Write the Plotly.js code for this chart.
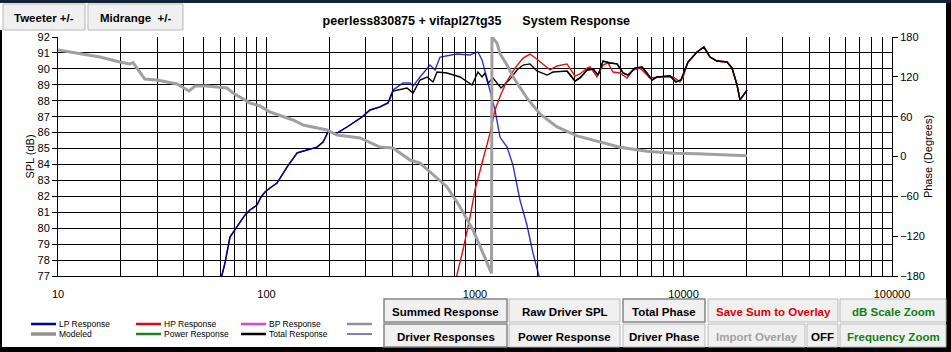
<!DOCTYPE html>
<html>
<head>
<meta charset="utf-8">
<script src="https://cdn.plot.ly/plotly-3.0.1.min.js"></script>
<style>html,body{margin:0;padding:0;background:#fff;}#chart{width:951px;height:352px;}</style>
</head>
<body>
<div id="chart"></div>
<script>
// ---- data ----
var lpFreq = [61, 63.2, 66.8, 70.6, 78.9, 83.3, 90, 94.1, 98.4, 103.9, 112.3, 125.4, 140, 144.8, 174.8, 186.7, 197.2, 217.9, 243.3, 287.2, 313.5, 350.3, 382.5, 404.3, 451.5, 487.7, 504.5, 544.9, 608.5, 643.3, 679.7, 819.7, 946.5, 1000, 1033, 1081, 1154, 1247, 1318, 1424, 1521, 1643, 1775, 1897, 2028];
var lpSpl = [77.0, 77.81, 79.44, 79.88, 80.83, 81.14, 81.45, 81.96, 82.27, 82.52, 82.83, 83.84, 84.72, 84.78, 85.09, 85.41, 86.04, 85.97, 86.35, 86.98, 87.42, 87.61, 87.86, 88.67, 89.11, 89.11, 88.92, 89.49, 90.24, 89.93, 90.74, 90.93, 90.87, 91.0, 91.06, 90.56, 89.11, 87.42, 85.72, 85.09, 83.96, 81.77, 80.20, 78.44, 77.0];

var hpFreq = [816.6, 875.6, 946.5, 1000, 1081, 1181, 1247, 1333, 1424, 1555, 1700, 1836, 2005, 2215, 2291, 2474, 2762, 3017, 3189, 3446, 3565, 3846, 4115, 4345, 4592, 4961, 5358, 5728, 6185, 6902, 7709, 8904, 9617, 9949, 10510, 11610, 12540, 13400, 14480, 16170, 17090, 18060, 18660, 19280, 20160];
var hpSpl = [77.0, 78.63, 80.70, 82.40, 84.09, 85.97, 87.42, 88.42, 89.24, 90.05, 90.68, 90.93, 90.56, 90.12, 89.93, 90.18, 90.31, 89.55, 89.68, 90.05, 90.12, 89.49, 90.24, 90.37, 89.80, 89.74, 89.43, 89.93, 90.05, 89.43, 89.49, 89.49, 89.18, 89.49, 90.43, 91.06, 91.37, 90.74, 90.49, 90.43, 90.05, 88.99, 88.05, 88.30, 88.67];

var totalFreq = [61, 63.2, 66.8, 70.6, 78.9, 83.3, 90, 94.1, 98.4, 103.9, 112.3, 125.4, 140, 144.8, 174.8, 186.7, 197.2, 217.9, 243.3, 287.2, 313.5, 350.3, 382.5, 404.3, 422.6, 472, 504.5, 545, 589, 629, 657.6, 734, 848, 968, 1033, 1081, 1117, 1154, 1220, 1333, 1472, 1590, 1700, 1836, 1983, 2215, 2368, 2762, 3017, 3189, 3446, 3685, 3894, 4115, 4440, 4800, 5131, 5423, 5852, 6325, 6683, 7063, 7463, 8610, 9204, 9727, 10510, 11610, 12540, 13400, 14480, 16170, 17090, 18060, 18660, 19280, 20160];
var totalSpl = [77.0, 77.81, 79.44, 79.88, 80.83, 81.14, 81.45, 81.96, 82.27, 82.52, 82.83, 83.84, 84.72, 84.78, 85.09, 85.41, 86.04, 85.97, 86.35, 86.98, 87.42, 87.61, 87.86, 88.6, 88.67, 88.80, 88.48, 89.30, 89.49, 89.18, 89.80, 89.74, 89.49, 88.99, 89.80, 89.49, 89.74, 89.11, 89.43, 88.80, 89.36, 89.93, 90.24, 90.31, 89.87, 89.61, 89.80, 89.87, 89.24, 89.43, 89.93, 89.99, 89.61, 90.49, 90.37, 90.31, 89.74, 89.61, 90.05, 90.12, 89.74, 89.30, 89.49, 89.55, 89.18, 89.30, 90.43, 91.06, 91.37, 90.74, 90.49, 90.43, 90.05, 88.99, 88.05, 88.30, 88.67];

var phaseFreq = [10, 11.8, 15.9, 19.8, 22.1, 22.9, 24.2, 26.1, 29.8, 37.2, 42.5, 45.4, 51.8, 57.9, 64.7, 69.1, 83.3, 93.1, 103.9, 134, 150, 195, 218, 281, 350, 404, 488, 545, 629, 734, 848, 978, 1092, 1200, 1206, 1275, 1318, 1424, 1522, 1776, 2050, 2474, 3084, 3977, 4961, 6683, 8904, 11605, 16170, 20160];
var phaseDeg = [160.4, 156.4, 149.9, 142.3, 139.3, 141.3, 130.3, 116.7, 115.2, 109.2, 98.7, 106.2, 106.2, 104.7, 103.2, 95.6, 80.6, 76.1, 67.0, 55.0, 47.4, 39.9, 32.4, 27.9, 14.3, 12.8, -5.3, -9.8, -27.9, -45.9, -76.1, -110.7, -145.4, -176, 180, 171, 155, 138, 120, 88, 64, 44.5, 31, 22, 14, 8, 5, 4, 2.3, 1];

var decadeLabels = ['10', '100', '1000', '10000', '100000'];
var splTicks = [77, 78, 79, 80, 81, 82, 83, 84, 85, 86, 87, 88, 89, 90, 91, 92];
var phaseTicks = [-180, -120, -60, 0, 60, 120, 180];

var legendRow1 = ['LP Response', 'HP Response', 'BP Response', ''];
var legendRow2 = ['Modeled', 'Power Response', 'Total Response', ''];
var legendColors1 = ['#0000b0', '#d01010', '#e040e0', '#909090'];
var legendColors2 = ['#909090', '#208020', '#000000', '#000090'];

var chartTitle = 'peerless830875 + vifapl27tg35\u00a0\u00a0\u00a0\u00a0\u00a0\u00a0System Response';

// ---- axis grid values (every 1..9 x decade) ----
var gridVals = [], gridText = [];
for (var d = 0; d < 4; d++) {
  for (var m = 1; m <= 9; m++) {
    gridVals.push(m * Math.pow(10, d + 1));
    gridText.push(m === 1 ? decadeLabels[d] : '');
  }
}
gridVals.push(100000); gridText.push(decadeLabels[4]);

// ---- geometry helpers (pixel -> paper) ----
var W = 951, H = 352, L = 58, R = 892, T = 37, B = 276;
function px(x) { return (x - L) / (R - L); }
function py(y) { return (B - y) / (B - T); }

var FONT = 'Arial, "Liberation Sans", sans-serif';

var traces = [
  {x: totalFreq, y: totalSpl, type: 'scatter', mode: 'lines', line: {color: '#000000', width: 1.4}, showlegend: false, name: 'Total Response'},
  {x: lpFreq, y: lpSpl, type: 'scatter', mode: 'lines', line: {color: '#0000b4', width: 1.4}, opacity: 0.8, showlegend: false, name: 'LP Response'},
  {x: hpFreq, y: hpSpl, type: 'scatter', mode: 'lines', line: {color: '#e01010', width: 1.4}, showlegend: false, name: 'HP Response'},
  {x: totalFreq.slice(47), y: totalSpl.slice(47), type: 'scatter', mode: 'lines', line: {color: '#000000', width: 1.4}, showlegend: false, name: 'Total Response'},
  {x: phaseFreq, y: phaseDeg, type: 'scatter', mode: 'lines', yaxis: 'y2', line: {color: '#a0a0a0', width: 3}, showlegend: false, name: 'Modeled'}
];

var shapes = [], annotations = [];

function button(x0, y0, x1, y1, text, color, sunken) {
  shapes.push({type: 'rect', xref: 'paper', yref: 'paper', x0: px(x0), x1: px(x1), y0: py(y1), y1: py(y0),
    fillcolor: '#f0f0f0', line: {color: sunken ? '#858585' : '#b8b8b8', width: sunken ? 1.5 : 1}, layer: 'above'});
  annotations.push({xref: 'paper', yref: 'paper', x: px((x0 + x1) / 2), y: py((y0 + y1) / 2 + 1), xanchor: 'center', yanchor: 'middle',
    text: '<b>' + text + '</b>', showarrow: false, font: {family: FONT, size: 11.5, color: color}});
}

// window frame
shapes.push({type: 'rect', xref: 'paper', yref: 'paper', x0: px(0), x1: px(951), y0: py(3), y1: py(0), fillcolor: '#14233a', line: {width: 0}, layer: 'above'});
shapes.push({type: 'rect', xref: 'paper', yref: 'paper', x0: px(0), x1: px(951), y0: py(352), y1: py(347), fillcolor: '#000000', line: {width: 0}, layer: 'above'});
shapes.push({type: 'rect', xref: 'paper', yref: 'paper', x0: px(0), x1: px(2), y0: py(352), y1: py(30), fillcolor: '#000000', line: {width: 0}, layer: 'above'});
shapes.push({type: 'rect', xref: 'paper', yref: 'paper', x0: px(946), x1: px(951), y0: py(352), y1: py(3), fillcolor: '#000000', line: {width: 0}, layer: 'above'});

// top buttons
button(3, 4, 85, 30, 'Tweeter +/-', '#000000', false);
button(88, 4, 183, 30, 'Midrange\u00a0\u00a0+/-', '#000000', false);

// bottom buttons
button(384, 299, 507, 322, 'Summed Response', '#000000', true);
button(509, 299, 620, 322, 'Raw Driver SPL', '#000000', false);
button(623, 299, 705, 322, 'Total Phase', '#000000', true);
button(708, 299, 838, 322, 'Save Sum to Overlay', '#e00000', false);
button(840, 299, 946, 322, 'dB Scale Zoom', '#108010', false);
button(384, 324, 507, 347, 'Driver Responses', '#000000', true);
button(509, 324, 620, 347, 'Power Response', '#000000', false);
button(623, 324, 705, 347, 'Driver Phase', '#000000', false);
button(708, 324, 805, 347, 'Import Overlay', '#a0a0a0', false);
button(807, 324, 838, 347, 'OFF', '#000000', false);
button(840, 324, 946, 347, 'Frequency Zoom', '#108010', false);

// manual legend
var colX = [31, 136, 241, 347];
var rowY = [324, 334];
var rows = [legendRow1, legendRow2];
var cols = [legendColors1, legendColors2];
for (var r = 0; r < 2; r++) {
  for (var c = 0; c < 4; c++) {
    var w = (r === 1 && c === 0) ? 3.5 : (c === 3 ? (r === 0 ? 2.5 : 1) : 2.5);
    shapes.push({type: 'line', xref: 'paper', yref: 'paper', x0: px(colX[c]), x1: px(colX[c] + 25), y0: py(rowY[r]), y1: py(rowY[r]),
      line: {color: cols[r][c], width: w}, layer: 'above'});
    if (rows[r][c]) {
      annotations.push({xref: 'paper', yref: 'paper', x: px(colX[c] + 26), y: py(rowY[r]), xanchor: 'left', yanchor: 'middle',
        text: rows[r][c], showarrow: false, font: {family: FONT, size: 8.5, color: '#000000'}});
    }
  }
}

var layout = {
  width: W, height: H,
  margin: {l: L, r: W - R, t: T, b: H - B, pad: 0},
  paper_bgcolor: '#ffffff', plot_bgcolor: '#ffffff',
  showlegend: false,
  title: {text: '<b>' + chartTitle + '</b>', font: {family: FONT, size: 12.5, color: '#000000'},
    x: px(477) * (R - L) / W + L / W, xanchor: 'center', xref: 'paper', y: 1 - 21 / H, yanchor: 'middle', yref: 'container'},
  xaxis: {type: 'log', range: [1, 5], tickmode: 'array', tickvals: gridVals, ticktext: gridText,
    showgrid: true, gridcolor: '#000000', gridwidth: 1, zeroline: false,
    showline: true, linecolor: '#000000', linewidth: 1, mirror: false,
    ticks: 'outside', ticklen: 8, tickcolor: 'rgba(0,0,0,0)',
    tickfont: {family: FONT, size: 11, color: '#000000'}},
  yaxis: {range: [77, 92], tickmode: 'array', tickvals: splTicks, showgrid: true, gridcolor: '#000000', gridwidth: 1,
    zeroline: false, showline: true, linecolor: '#000000', linewidth: 1,
    ticks: 'outside', ticklen: 5, tickcolor: '#000000',
    tickfont: {family: FONT, size: 11, color: '#000000'},
    title: {text: 'SPL (dB)', font: {family: FONT, size: 11, color: '#000000'}, standoff: 0}},
  yaxis2: {overlaying: 'y', side: 'right', range: [-180, 180], tickmode: 'array', tickvals: phaseTicks,
    showgrid: false, zeroline: false, showline: true, linecolor: '#000000', linewidth: 1,
    ticks: 'outside', ticklen: 5, tickcolor: '#000000',
    tickfont: {family: FONT, size: 11, color: '#000000'},
    title: {text: 'Phase (Degrees)', font: {family: FONT, size: 11, color: '#000000'}, standoff: 0}},
  shapes: shapes,
  annotations: annotations
};

Plotly.newPlot('chart', traces, layout, {staticPlot: true, displayModeBar: false});
</script>
</body>
</html>
